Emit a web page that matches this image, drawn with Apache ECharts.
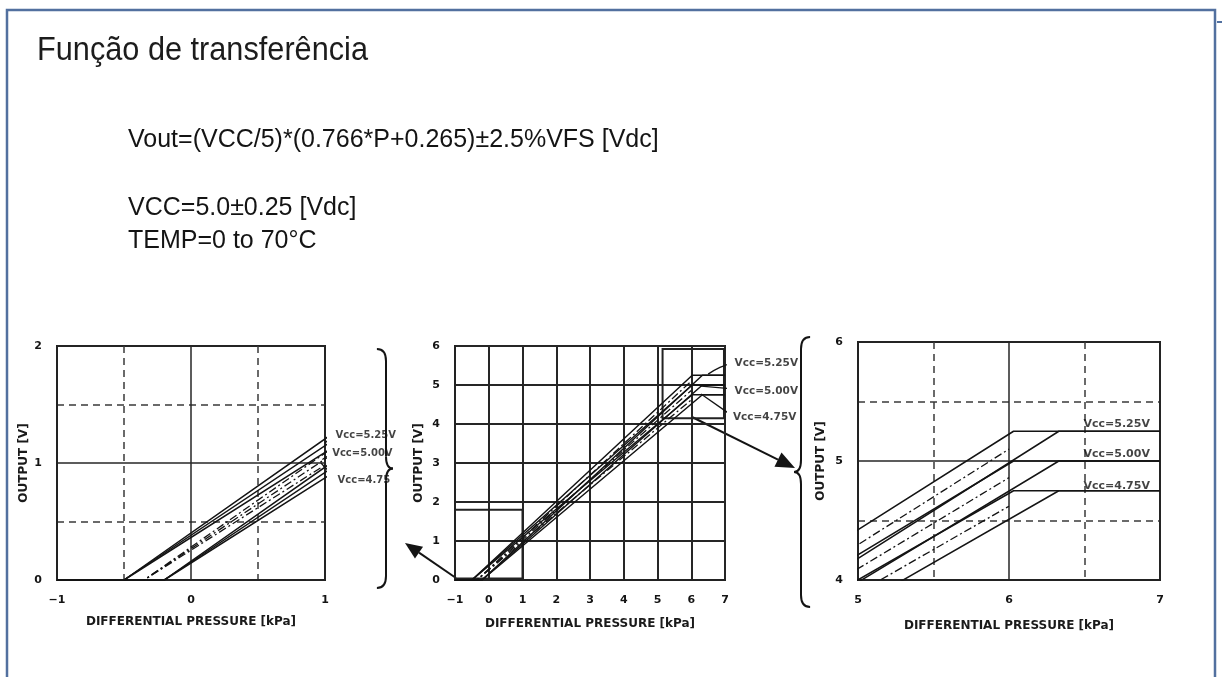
<!DOCTYPE html>
<html>
<head>
<meta charset="utf-8">
<title>Função de transferência</title>
<script src="https://cdn.jsdelivr.net/npm/echarts@6/dist/echarts.min.js"></script>
<style>
  html, body { margin: 0; padding: 0; background: #fff; }
  #chart { width: 1222px; height: 677px; }
</style>
</head>
<body>
<div id="chart"></div>
<script>
// curves: [differential pressure kPa, output V]
// upper / lower = tolerance band, mid = nominal (dash-dot)
const vcc525Upper = [[-1, 0], [-0.5, 0], [6.03, 5.25], [7, 5.25]]
const vcc525Mid = [[-1, 0], [-0.35, 0], [6, 5.10]]
const vcc525Lower = [[-1, 0], [-0.2, 0], [6.33, 5.25], [7, 5.25]]

const vcc500Upper = [[-1, 0], [-0.5, 0], [6.03, 5.0], [7, 5.0]]
const vcc500Mid = [[-1, 0], [-0.35, 0], [6, 4.86]]
const vcc500Lower = [[-1, 0], [-0.2, 0], [6.33, 5.0], [7, 5.0]]

const vcc475Upper = [[-1, 0], [-0.5, 0], [6.03, 4.75], [7, 4.75]]
const vcc475Mid = [[-1, 0], [-0.35, 0], [6, 4.62]]
const vcc475Lower = [[-1, 0], [-0.2, 0], [6.33, 4.75], [7, 4.75]]

// axis ranges of the three panels (left zoom, full, right zoom)
const xRanges = [[-1, 1], [-1, 7], [5, 7]]
const yRanges = [[0, 2], [0, 6], [4, 6]]

// curve labels per panel
const labelText = [
  ['Vcc=5.25V', 'Vcc=5.00V', 'Vcc=4.75'],
  ['Vcc=5.25V', 'Vcc=5.00V', 'Vcc=4.75V'],
  ['Vcc=5.25V', 'Vcc=5.00V', 'Vcc=4.75V']
]
const labelAt = [
  [[1.075, 1.24], [1.05, 1.08], [1.09, 0.85]],
  [[7.27, 5.56], [7.27, 4.85], [7.22, 4.16]],
  [[6.49, 5.31], [6.49, 5.06], [6.49, 4.79]]
]
const leaders = [
  [[[1.0, 1.17], [1.07, 1.25]], [[0.98, 1.03], [1.05, 1.08]], [[0.97, 1.0], [1.03, 0.93], [1.09, 0.87]]],
  [[[6.5, 5.28], [6.85, 5.45], [7.25, 5.58]], [[6.29, 4.97], [7.25, 4.9]], [[6.29, 4.77], [7.2, 4.22]]],
  []
]
// zoom boxes drawn on the full panel
const zoomBoxes = [[[-1, 0.04], [1, 1.8]], [[5.15, 4.15], [6.97, 5.92]]]

const grids = [
  { left: 57, top: 346, width: 268, height: 234 },
  { left: 455, top: 346, width: 270, height: 234 },
  { left: 858, top: 342, width: 302, height: 238 }
]
const xNameGap = [36, 38, 40]
const yNameGap = [27, 30, 31]
const labelSize = [10, 10.5, 11]

const ink = '#141414'
const tickFont = { fontFamily: 'DejaVu Sans', fontSize: 11, fontWeight: 'bold', color: ink }
const nameFont = { fontFamily: 'DejaVu Sans', fontSize: 12, fontWeight: 'bold', color: '#1a1a1a' }

function fmt(v) {
  return v < 0 ? '\u2212' + Math.abs(v) : String(v)
}

function makeAxis(i, isX) {
  const range = isX ? xRanges[i] : yRanges[i]
  const full = i === 1
  return {
    type: 'value', gridIndex: i, min: range[0], max: range[1], interval: 1,
    axisLine: { show: true, onZero: false, lineStyle: { color: '#222', width: 2 } },
    axisTick: { show: false },
    axisLabel: { ...tickFont, margin: 15, formatter: fmt },
    splitLine: { show: true, lineStyle: { color: '#262626', width: full ? 2 : 1.5 } },
    minorTick: { show: false, splitNumber: 2 },
    minorSplitLine: { show: !full, lineStyle: { color: '#3a3a3a', width: 1.5, type: [7, 5] } },
    name: isX ? 'DIFFERENTIAL PRESSURE [kPa]' : 'OUTPUT [V]',
    nameLocation: 'middle',
    nameGap: isX ? xNameGap[i] : yNameGap[i],
    nameTextStyle: nameFont
  }
}

const curves = [
  { data: vcc525Upper }, { data: vcc525Mid, mid: true }, { data: vcc525Lower },
  { data: vcc500Upper }, { data: vcc500Mid, mid: true }, { data: vcc500Lower },
  { data: vcc475Upper }, { data: vcc475Mid, mid: true }, { data: vcc475Lower }
]

const series = []
for (let g = 0; g < 3; g++) {
  curves.forEach((c, k) => {
    const s = {
      type: 'line', xAxisIndex: g, yAxisIndex: g, data: c.data,
      symbol: 'none', silent: true,
      lineStyle: { color: ink, width: c.mid ? 1.3 : 1.5, type: c.mid ? [8, 3, 2, 3] : 'solid' }
    }
    if (g === 1 && k === 0) {
      s.markArea = {
        silent: true,
        itemStyle: { color: 'rgba(0,0,0,0)', borderColor: '#222', borderWidth: 2 },
        data: zoomBoxes.map(b => [{ coord: b[0] }, { coord: b[1] }])
      }
    }
    series.push(s)
  })
  leaders[g].forEach(l => series.push({
    type: 'line', xAxisIndex: g, yAxisIndex: g, data: l, clip: false,
    symbol: 'none', silent: true, smooth: l.length > 2 ? 0.4 : false,
    lineStyle: { color: ink, width: 1.3 }
  }))
  series.push({
    type: 'scatter', xAxisIndex: g, yAxisIndex: g, clip: false, silent: true,
    symbolSize: 1, itemStyle: { color: 'rgba(0,0,0,0)' },
    data: labelAt[g].map((p, i) => ({ value: p, label: { formatter: labelText[g][i] } })),
    label: { show: true, position: 'right', distance: 0, fontFamily: 'DejaVu Sans', fontWeight: 'bold', fontSize: labelSize[g], color: ink }
  })
}

function arrow(x1, y1, x2, y2, head) {
  const a = Math.atan2(y2 - y1, x2 - x1)
  const bx = x2 - head * Math.cos(a)
  const by = y2 - head * Math.sin(a)
  const w = head * 0.42
  return [
    { type: 'line', shape: { x1: x1, y1: y1, x2: bx, y2: by }, style: { stroke: ink, lineWidth: 2 } },
    {
      type: 'polygon',
      shape: { points: [[x2, y2], [bx + w * Math.sin(a), by - w * Math.cos(a)], [bx - w * Math.sin(a), by + w * Math.cos(a)]] },
      style: { fill: ink }
    }
  ]
}

// curly brace: spine at x, from y1 to y2, tip pointing by d (+ right, - left)
function brace(x, y1, y2, d) {
  const st = { fill: null, stroke: ink, lineWidth: 2 }
  const ym = (y1 + y2) / 2
  const r = 12
  const back = x - d * 1.3
  const q = (sx, sy, cx, cy, ex, ey) => ({ type: 'bezierCurve', shape: { x1: sx, y1: sy, cpx1: cx, cpy1: cy, x2: ex, y2: ey }, style: st })
  const ln = (sx, sy, ex, ey) => ({ type: 'line', shape: { x1: sx, y1: sy, x2: ex, y2: ey }, style: st })
  return [
    q(back, y1, x, y1, x, y1 + r),
    ln(x, y1 + r, x, ym - r),
    q(x, ym - r, x, ym, x + d, ym),
    q(x + d, ym, x, ym, x, ym + r),
    ln(x, ym + r, x, y2 - r),
    q(x, y2 - r, x, y2, back, y2)
  ]
}

const graphic = [
  { type: 'rect', shape: { x: 7, y: 10, width: 1208, height: 700 }, style: { fill: null, stroke: '#52709f', lineWidth: 2.5 } },
  { type: 'line', shape: { x1: 1217, y1: 22, x2: 1222, y2: 22 }, style: { stroke: '#52709f', lineWidth: 2 } },
  {
    type: 'text', x: 37, y: 51, scaleX: 0.93,
    style: { text: 'Função de transferência', fontFamily: 'Liberation Sans', fontSize: 33, fill: '#1c1c1c', verticalAlign: 'middle' }
  },
  {
    type: 'text', x: 128, y: 140,
    style: { text: 'Vout=(VCC/5)*(0.766*P+0.265)\u00b12.5%VFS [Vdc]', fontFamily: 'Liberation Sans', fontSize: 25, fill: ink, verticalAlign: 'middle' }
  },
  {
    type: 'text', x: 128, y: 208,
    style: { text: 'VCC=5.0\u00b10.25 [Vdc]', fontFamily: 'Liberation Sans', fontSize: 25, fill: ink, verticalAlign: 'middle' }
  },
  {
    type: 'text', x: 128, y: 241,
    style: { text: 'TEMP=0 to 70\u00b0C', fontFamily: 'Liberation Sans', fontSize: 25, fill: ink, verticalAlign: 'middle' }
  },
  ...brace(386, 349, 588, 7),
  ...brace(801, 337, 607, -7),
  ...arrow(456, 578, 405, 543, 17),
  ...arrow(692, 417, 795, 468, 19)
]

const chart = echarts.init(document.getElementById('chart'))
chart.setOption({
  animation: false,
  backgroundColor: '#fff',
  grid: grids.map(g => ({ ...g, show: true, borderColor: '#222', borderWidth: 2, backgroundColor: 'rgba(0,0,0,0)' })),
  xAxis: [0, 1, 2].map(i => makeAxis(i, true)),
  yAxis: [0, 1, 2].map(i => makeAxis(i, false)),
  series: series,
  graphic: graphic
})
</script>
</body>
</html>
